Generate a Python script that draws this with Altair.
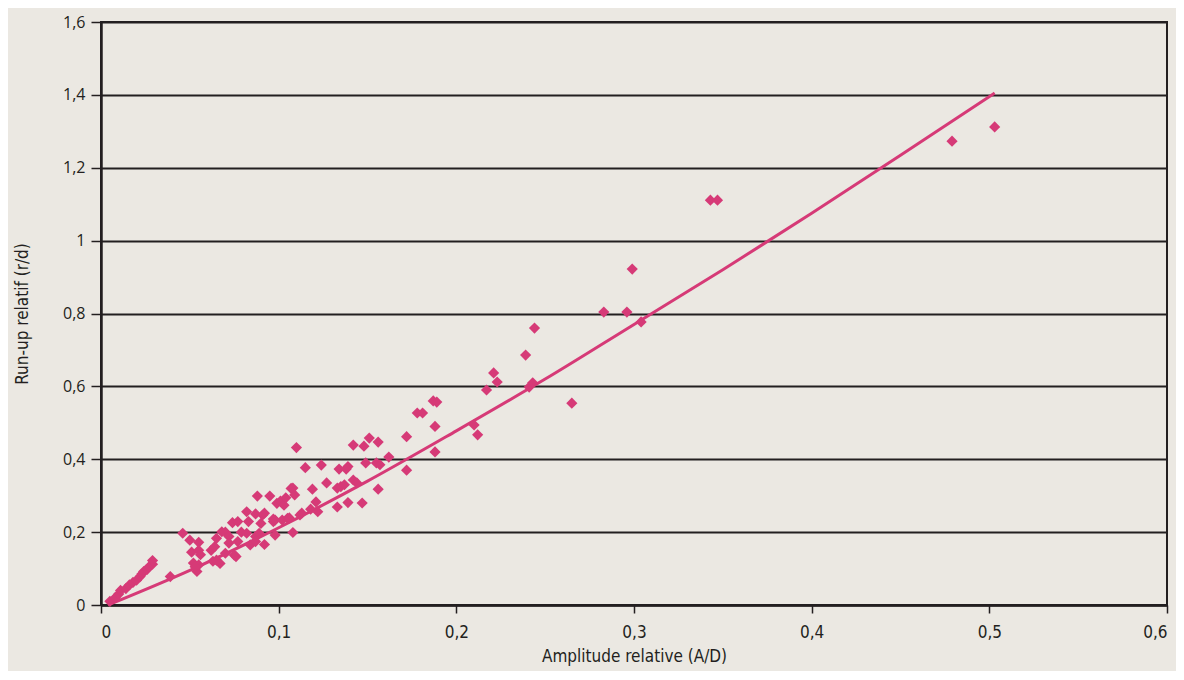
import altair as alt
import pandas as pd

# Measured points: relative amplitude (A/D) and relative run-up (r/d)
amp = [0.005, 0.008, 0.010, 0.011, 0.014, 0.016, 0.018, 0.020, 0.022, 0.023, 0.024, 0.026, 0.027, 0.029, 0.029, 0.039,
       0.046, 0.050, 0.051, 0.052, 0.054, 0.055, 0.055, 0.055, 0.056, 0.053,
       0.062, 0.063, 0.064, 0.065, 0.065, 0.067, 0.068, 0.070, 0.070, 0.072, 0.072, 0.074, 0.075, 0.076, 0.077, 0.077, 0.079,
       0.082, 0.082, 0.083, 0.084, 0.087, 0.087, 0.087, 0.088, 0.089, 0.090, 0.092, 0.092, 0.091, 0.095, 0.097, 0.097, 0.098, 0.098, 0.099,
       0.101, 0.102, 0.103, 0.104, 0.105, 0.106, 0.107, 0.108, 0.108, 0.109, 0.110, 0.112, 0.113, 0.115, 0.118, 0.119, 0.121, 0.122,
       0.124, 0.127, 0.133, 0.133, 0.134, 0.135, 0.137, 0.138, 0.139, 0.139, 0.142, 0.142, 0.144, 0.147, 0.148, 0.149, 0.151, 0.155, 0.156, 0.156, 0.157, 0.162,
       0.172, 0.172, 0.178, 0.181, 0.187, 0.189, 0.188, 0.188,
       0.210, 0.212, 0.217, 0.221, 0.223, 0.239, 0.241, 0.243, 0.244, 0.265, 0.283, 0.296, 0.299, 0.304, 0.343, 0.347, 0.479, 0.503]
runup = [0.010, 0.020, 0.030, 0.040, 0.045, 0.055, 0.062, 0.068, 0.078, 0.085, 0.092, 0.098, 0.105, 0.112, 0.122, 0.078,
         0.197, 0.178, 0.145, 0.115, 0.092, 0.172, 0.150, 0.110, 0.138, 0.105,
         0.150, 0.120, 0.160, 0.183, 0.123, 0.114, 0.201, 0.142, 0.200, 0.188, 0.170, 0.226, 0.137, 0.133, 0.229, 0.174, 0.200,
         0.256, 0.197, 0.229, 0.165, 0.250, 0.188, 0.174, 0.299, 0.197, 0.224, 0.252, 0.166, 0.247, 0.299, 0.229, 0.236, 0.233, 0.192, 0.279,
         0.285, 0.233, 0.274, 0.294, 0.238, 0.239, 0.320, 0.321, 0.199, 0.302, 0.432, 0.247, 0.252, 0.377, 0.263, 0.318, 0.283, 0.256,
         0.384, 0.335, 0.321, 0.269, 0.373, 0.325, 0.330, 0.373, 0.281, 0.380, 0.343, 0.439, 0.335, 0.280, 0.436, 0.390, 0.458, 0.390, 0.447, 0.318, 0.385, 0.406,
         0.462, 0.370, 0.527, 0.527, 0.560, 0.557, 0.490, 0.420,
         0.494, 0.467, 0.590, 0.637, 0.612, 0.686, 0.598, 0.610, 0.760, 0.554, 0.804, 0.804, 0.922, 0.777, 1.111, 1.111, 1.273, 1.312]

# Fitted curve
fit_x = [0.004, 0.05, 0.10, 0.15, 0.20, 0.25, 0.30, 0.35, 0.40, 0.45, 0.503]
fit_y = [0.0, 0.095, 0.212, 0.34, 0.478, 0.62, 0.77, 0.92, 1.075, 1.234, 1.405]

x_ticks = [0, 0.1, 0.2, 0.3, 0.4, 0.5, 0.6]
y_ticks = [0, 0.2, 0.4, 0.6, 0.8, 1.0, 1.2, 1.4, 1.6]

pts = pd.DataFrame({"amp": amp, "runup": runup})
fit = pd.DataFrame({"amp": fit_x, "runup": fit_y})

PINK = "#D63A77"
DARK = "#231F20"
BG = "#EBE8E2"
FONT = "Liberation Sans Narrow, DejaVu Sans Condensed, Roboto Condensed, Roboto, sans-serif"
YFONT = "Open Sans, Noto Sans, sans-serif"

label_expr = "replace(format(datum.value, ''), '.', ',')"

xscale = alt.Scale(domain=[0, 0.6], nice=False, zero=True)
yscale = alt.Scale(domain=[0, 1.6], nice=False, zero=True)

xaxis = alt.Axis(values=x_ticks, grid=False, labelExpr=label_expr, title="Amplitude relative (A/D)",
                 domainColor=DARK, domainWidth=2.5, tickColor=DARK, tickWidth=1.5, tickSize=8,
                 labelFont=FONT, labelFontSize=17, labelColor=DARK, labelPadding=11,
                 titleFont=FONT, titleFontSize=17, titleFontWeight="normal", titleColor=DARK,
                 titlePadding=8)
yaxis = alt.Axis(values=y_ticks, grid=True, gridColor=DARK, gridWidth=2, labelExpr=label_expr,
                 title="Run-up relatif (r/d)",
                 domainColor=DARK, domainWidth=2.5, tickColor=DARK, tickWidth=1.5, tickSize=10,
                 labelFont=YFONT, labelFontSize=16, labelColor=DARK, labelPadding=6,
                 titleFont=FONT, titleFontSize=17, titleFontWeight="normal", titleColor=DARK,
                 titlePadding=31)

points = alt.Chart(pts).mark_point(shape="diamond", filled=True, size=125, color=PINK, opacity=1).encode(
    x=alt.X("amp:Q", scale=xscale, axis=xaxis),
    y=alt.Y("runup:Q", scale=yscale, axis=yaxis),
)

line = alt.Chart(fit).mark_line(color=PINK, strokeWidth=3, interpolate="monotone").encode(
    x=alt.X("amp:Q", scale=xscale),
    y=alt.Y("runup:Q", scale=yscale),
    order="amp:Q",
)

chart = (
    alt.layer(line, points)
    .properties(width=1066, height=583, background=BG,
                autosize=alt.AutoSizeParams(type="none"),
                padding={"left": 93, "top": 14, "right": 9, "bottom": 66})
    .configure_view(stroke=DARK, strokeWidth=2)
)

chart.save("out.html", embed_options={"renderer": "svg", "actions": False})
